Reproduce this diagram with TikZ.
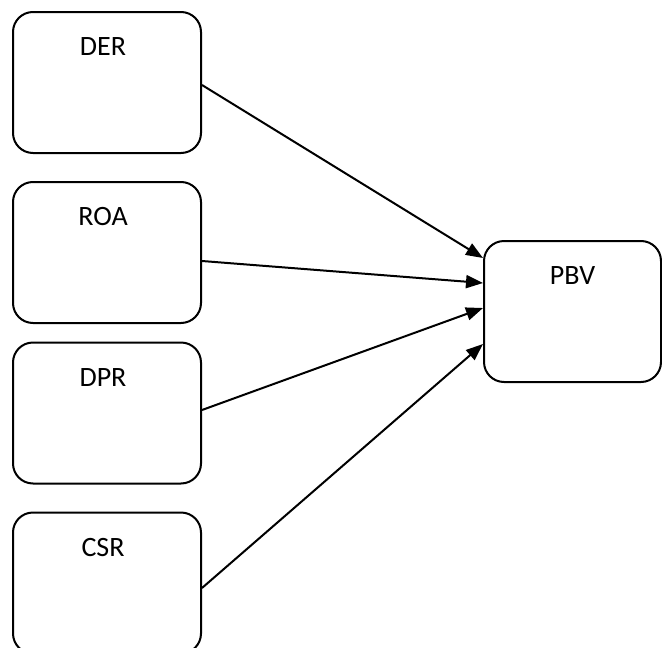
\documentclass[tikz,border=0pt]{standalone}
\usepackage{fontspec}
\setmainfont{Carlito}
\usetikzlibrary{arrows.meta}
\begin{document}
\begin{tikzpicture}[x=1pt,y=-1pt,
    box/.style={draw,line width=2pt,rounded corners=20pt,inner sep=0pt,
      minimum width=188pt,minimum height=141pt},
    lbl/.style={inner sep=0pt,yshift=-36pt,xshift=-4pt,
      font=\fontsize{28}{34}\selectfont},
    link/.style={line width=2pt,-{Triangle[length=17pt,width=13pt]}}]
      \useasboundingbox (0,0) rectangle (662,648);
      \node[box] (der) at (107,82.5) {};
      \node[box] (roa) at (107,252.5) {};
      \node[box] (dpr) at (107,413) {};
      \node[box] (csr) at (107,583) {};
      \node[box,minimum width=177pt] (pbv) at (572.5,311.5) {};
      \node[lbl] (derlbl) at (der.north) {DER};
      \node[lbl] (roalbl) at (roa.north) {ROA};
      \node[lbl] (dprlbl) at (dpr.north) {DPR};
      \node[lbl] (csrlbl) at (csr.north) {CSR};
      \node[lbl,xshift=4pt] (pbvlbl) at (pbv.north) {PBV};
      \begin{scope}[link]
        \draw ([yshift=-2.5pt]der.east) to ([yshift=53.5pt]pbv.west);
        \draw ([yshift=-8.5pt]roa.east) to ([yshift=28.5pt]pbv.west);
        \draw ([yshift=3pt]dpr.east) to ([yshift=3.5pt]pbv.west);
        \draw ([yshift=-5pt]csr.east) to ([yshift=-32.5pt]pbv.west);
      \end{scope}
    \end{tikzpicture}
\end{document}
